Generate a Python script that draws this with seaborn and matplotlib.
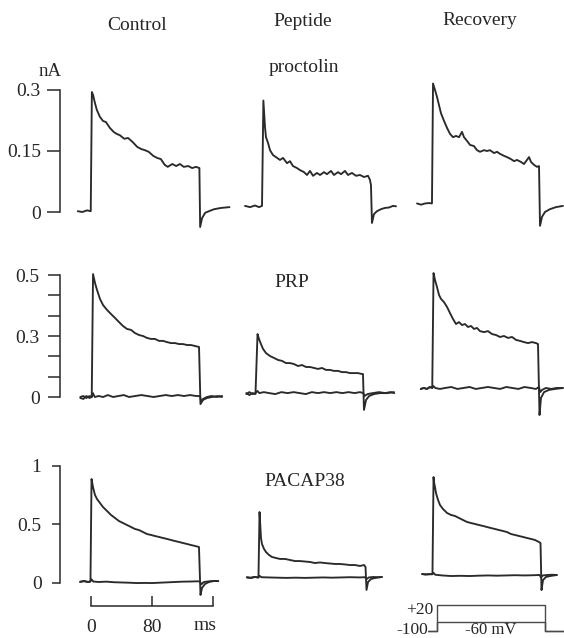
import matplotlib
matplotlib.use("Agg")
import numpy as np
import pandas as pd
import matplotlib.pyplot as plt
import seaborn as sns

# ---------------------------------------------------------------------------
# Column / row annotations
# ---------------------------------------------------------------------------
conditions = ["Control", "Peptide", "Recovery"]
peptides = ["proctolin", "PRP", "PACAP38"]

# y-axis ticks (nA) and their printed labels, one list per peptide row
proc_ticks = [0.0, 0.15, 0.3]
proc_tick_labels = ["0", "0.15", "0.3"]
prp_ticks = [0.0, 0.0833, 0.1667, 0.25, 0.3333, 0.4167, 0.5]
prp_tick_labels = ["0", "", "", "0.3", "", "", "0.5"]
pacap_ticks = [0.0, 0.5, 1.0]
pacap_tick_labels = ["0", "0.5", "1"]

# time scale bar (ms)
bar_ticks = [0, 80, 160]
bar_labels = ["0", "80", ""]

# voltage protocol (ms, mV)
prot_t = [-12, 0, 0, 142, 142, 168]
prot_v_depol = [-100, -100, 20, 20, -100, -100]
prot_v_hyper = [-100, -100, -60, -60, -100, -100]

# ---------------------------------------------------------------------------
# Current traces: time (ms from step onset) and current (nA)
# ---------------------------------------------------------------------------
# proctolin, step to +20 mV
proc_ctrl_t = [-18, -12, -6, -1, 0.5, 2, 4.5, 7, 11, 15, 19, 24, 29, 33, 37, 43, 48, 54, 60, 65,
               70, 75, 81, 86, 91, 96, 100, 106, 111, 116, 121, 127, 132, 137, 141.5, 142.5,
               145, 149, 154, 161, 170, 181]
proc_ctrl_i = [0.002, 0.000, 0.004, 0.002, 0.295, 0.288, 0.268, 0.251, 0.234, 0.224, 0.221, 0.207,
               0.197, 0.192, 0.189, 0.180, 0.182, 0.172, 0.160, 0.155, 0.152, 0.148, 0.138, 0.133,
               0.130, 0.116, 0.111, 0.118, 0.113, 0.118, 0.111, 0.113, 0.108, 0.111, 0.108, -0.037,
               -0.015, -0.002, 0.002, 0.007, 0.010, 0.012]

proc_pep_t = [-23.6, -17, -10.5, -5.2, -1.3, 0.5, 2.6, 3.9, 6.6, 9.2, 13.1, 17.0, 22.3, 26.2, 31.5,
              35.4, 39.3, 44.6, 48.5, 53.8, 57.7, 61.6, 65.6, 70.8, 74.8, 80.0, 83.9, 89.2, 93.1,
              98.4, 102.3, 107.5, 111.5, 116.7, 122.0, 127.2, 132.5, 137.7, 140.3, 141.6, 142.9,
              145.6, 149.5, 154.8, 160, 165.2, 170.5, 174.4]
proc_pep_i = [0.015, 0.012, 0.016, 0.012, 0.015, 0.274, 0.209, 0.184, 0.170, 0.152, 0.140, 0.135,
              0.128, 0.133, 0.120, 0.125, 0.113, 0.108, 0.103, 0.098, 0.091, 0.101, 0.089, 0.096,
              0.091, 0.098, 0.093, 0.101, 0.091, 0.098, 0.093, 0.101, 0.091, 0.096, 0.089, 0.091,
              0.086, 0.089, 0.079, 0.066, -0.027, -0.005, 0.002, 0.007, 0.010, 0.011, 0.015, 0.014]

proc_rec_t = [-20.3, -15.1, -9.8, -4.6, -0.7, 0.7, 3.3, 5.9, 8.5, 11.1, 15.1, 19.0, 23.0, 26.9,
              30.8, 34.8, 38.7, 41.3, 45.2, 49.2, 54.4, 58.4, 62.3, 67.5, 71.5, 75.4, 80.7, 84.6,
              88.5, 93.8, 97.7, 103.0, 106.9, 110.8, 116.1, 120.0, 123.9, 126.6, 129.2, 133.1,
              137.0, 139.7, 141.0, 143.6, 147.5, 154.1, 162.0, 171.1]
proc_rec_i = [0.021, 0.018, 0.021, 0.022, 0.021, 0.316, 0.300, 0.283, 0.263, 0.243, 0.224, 0.207,
              0.192, 0.184, 0.187, 0.184, 0.197, 0.184, 0.175, 0.165, 0.162, 0.152, 0.148, 0.152,
              0.150, 0.152, 0.145, 0.148, 0.143, 0.138, 0.135, 0.130, 0.125, 0.128, 0.123, 0.118,
              0.128, 0.135, 0.123, 0.116, 0.111, 0.113, -0.034, -0.012, 0.000, 0.007, 0.012, 0.015]

# PRP, step to +20 mV
prp_ctrl_t = [-16, -12, -8, -4, -1, 0.7, 3.3, 5.9, 9.8, 13.8, 19.0, 24.3, 29.5, 34.8, 40, 45.2,
              50.5, 55.7, 61, 66.2, 71.5, 76.7, 81.9, 87.2, 92.5, 97.7, 103, 108.2, 113.4, 118.7,
              123.9, 129.2, 134.4, 139.7, 141.6, 144.9, 150.2, 156.7, 164.6, 169.8]
prp_ctrl_i = [0.0, 0.004, -0.004, 0.004, 0.0, 0.504, 0.467, 0.439, 0.402, 0.377, 0.357, 0.340,
              0.324, 0.307, 0.291, 0.279, 0.275, 0.262, 0.254, 0.250, 0.242, 0.238, 0.238, 0.230,
              0.230, 0.225, 0.221, 0.221, 0.217, 0.217, 0.213, 0.213, 0.209, 0.205, -0.029,
              -0.012, -0.004, 0.0, 0.004, 0.0]

prp_pep_t = [-14, -10, -6, -2, 0.7, 2.6, 5.2, 7.9, 11.8, 17, 22.3, 27.5, 32.8, 38, 43.3, 48.5,
             53.8, 59, 64.3, 69.5, 74.8, 80, 85.2, 90.5, 95.7, 101, 106.2, 111.5, 116.7, 122,
             127.2, 132.5, 137.7, 139, 140.3, 143, 147, 153.4, 161.3, 170.5, 179.7]
prp_pep_i = [0.016, 0.008, 0.016, 0.012, 0.258, 0.238, 0.217, 0.197, 0.180, 0.168, 0.160, 0.152,
             0.148, 0.139, 0.139, 0.135, 0.127, 0.131, 0.123, 0.123, 0.119, 0.115, 0.119, 0.111,
             0.111, 0.107, 0.107, 0.102, 0.102, 0.098, 0.098, 0.098, 0.094, 0.094, -0.053,
             -0.012, 0.004, 0.012, 0.016, 0.016, 0.020]

prp_rec_t = [-16, -12, -8, -4, -1, 0.7, 2.6, 5.2, 7.9, 10.5, 14.4, 18.4, 22.3, 26.2, 30.2, 34.1,
             38, 42, 45.9, 49.8, 53.8, 57.7, 61.6, 66.9, 72.1, 77.4, 82.6, 87.9, 93.1, 98.4,
             103.6, 108.9, 114.1, 119.3, 124.6, 129.8, 135.1, 137.7, 139.7, 141.6, 145.6, 152.1,
             160, 170.5]
prp_rec_i = [0.033, 0.037, 0.033, 0.041, 0.037, 0.508, 0.480, 0.451, 0.418, 0.402, 0.389, 0.369,
             0.344, 0.320, 0.299, 0.307, 0.295, 0.299, 0.287, 0.291, 0.279, 0.283, 0.270, 0.266,
             0.270, 0.258, 0.254, 0.246, 0.250, 0.242, 0.246, 0.234, 0.230, 0.225, 0.221, 0.225,
             0.221, 0.217, -0.074, -0.004, 0.020, 0.029, 0.033, 0.037]

# PRP, step to -60 mV
prp_ctrl_t60 = [-16, -12, -8, -4, -1, 0.5, 3, 8, 14, 20, 27, 34, 41, 48, 56, 64, 72, 80, 88, 96,
                104, 112, 120, 128, 136, 141, 142.5, 145, 150, 156, 163, 170]
prp_ctrl_i60 = [-0.004, -0.008, 0.004, -0.004, 0.0, 0.016, 0.0, 0.004, 0.0, 0.008, 0.0, 0.004,
                0.008, 0.0, 0.004, 0.008, 0.004, 0.0, 0.004, 0.008, 0.004, 0.008, 0.004, 0.008,
                0.004, 0.004, -0.020, -0.008, 0.0, 0.004, 0.0, 0.004]

prp_pep_t60 = [-14, -10, -6, -2, 0.5, 3, 9, 16, 24, 32, 40, 48, 56, 64, 72, 80, 88, 96, 104, 112,
               120, 128, 135, 139.5, 141, 145, 152, 160, 168, 175, 180]
prp_pep_i60 = [0.012, 0.020, 0.012, 0.016, 0.025, 0.016, 0.020, 0.016, 0.012, 0.020, 0.016, 0.020,
               0.016, 0.012, 0.020, 0.016, 0.020, 0.016, 0.020, 0.016, 0.020, 0.016, 0.020, 0.016,
               0.004, 0.012, 0.016, 0.020, 0.016, 0.020, 0.016]

prp_rec_t60 = [-16, -12, -8, -4, -1, 0.5, 3, 9, 16, 24, 32, 40, 48, 56, 64, 72, 80, 88, 96, 104,
               112, 120, 128, 135, 139, 140.5, 143, 148, 155, 162, 170]
prp_rec_i60 = [0.033, 0.037, 0.033, 0.041, 0.037, 0.045, 0.037, 0.033, 0.037, 0.041, 0.033, 0.037,
               0.041, 0.033, 0.037, 0.041, 0.037, 0.033, 0.041, 0.037, 0.033, 0.041, 0.037, 0.033,
               0.041, 0.020, 0.029, 0.037, 0.033, 0.037, 0.037]

# PACAP38, step to +20 mV
pacap_ctrl_t = [-14.4, -9.2, -3.9, -0.7, 0.7, 2.6, 5.2, 7.9, 11.8, 15.7, 21, 26.2, 31.5, 36.7, 42,
                47.2, 52.5, 57.7, 63, 68.2, 73.4, 78.7, 83.9, 89.2, 94.4, 99.7, 104.9, 110.2,
                115.4, 120.7, 125.9, 131.1, 136.4, 141.6, 143.6, 145.6, 149.5, 154.8, 161.3, 166.6]
pacap_ctrl_i = [0.006, 0.015, 0.006, 0.010, 0.886, 0.818, 0.750, 0.715, 0.681, 0.647, 0.613, 0.579,
                0.553, 0.527, 0.510, 0.493, 0.476, 0.459, 0.450, 0.433, 0.416, 0.408, 0.399, 0.391,
                0.382, 0.374, 0.365, 0.356, 0.348, 0.339, 0.331, 0.322, 0.314, 0.305, -0.105,
                -0.045, -0.011, 0.006, 0.015, 0.015]

pacap_pep_t = [-15.7, -10.5, -5.2, -0.7, 0.7, 1.3, 2.6, 3.9, 6.6, 9.2, 13.1, 17, 22.3, 27.5, 34.1,
               40.7, 47.2, 53.8, 60.3, 66.9, 73.4, 80, 86.6, 93.1, 99.7, 106.2, 112.8, 119.3,
               125.9, 132.5, 137.7, 139.7, 141, 143, 147, 152.1, 161.3]
pacap_pep_i = [0.044, 0.040, 0.049, 0.044, 0.604, 0.536, 0.382, 0.331, 0.288, 0.262, 0.237, 0.220,
               0.211, 0.203, 0.203, 0.194, 0.185, 0.185, 0.181, 0.177, 0.168, 0.173, 0.168, 0.164,
               0.160, 0.160, 0.156, 0.151, 0.151, 0.143, 0.151, 0.134, -0.062, 0.006, 0.032,
               0.040, 0.049]

pacap_rec_t = [-14.4, -7.9, -0.7, 0.7, 1.3, 2.6, 3.9, 6.6, 9.2, 13.1, 18.4, 23.6, 28.9, 34.1,
               39.3, 44.6, 49.8, 55.1, 60.3, 65.6, 70.8, 76.1, 81.3, 86.6, 91.8, 97, 102.3, 107.5,
               112.8, 118, 123.3, 128.5, 133.8, 139, 141, 142.3, 144.3, 148.2, 153.4, 162.6]
pacap_rec_i = [0.074, 0.070, 0.074, 0.903, 0.861, 0.818, 0.767, 0.707, 0.664, 0.630, 0.596, 0.579,
               0.570, 0.553, 0.536, 0.519, 0.510, 0.502, 0.493, 0.485, 0.476, 0.467, 0.459, 0.450,
               0.442, 0.433, 0.416, 0.408, 0.399, 0.391, 0.382, 0.374, 0.365, 0.348, 0.339,
               -0.063, 0.023, 0.049, 0.057, 0.066]

# PACAP38, step to -60 mV
pacap_ctrl_t60 = [-14, -9, -4, -1, 0.5, 3, 10, 20, 30, 40, 50, 60, 70, 80, 90, 100, 110, 120, 130,
                  140, 143, 144.5, 148, 155, 162, 167]
pacap_ctrl_i60 = [0.009, 0.013, 0.006, 0.010, 0.030, 0.010, 0.006, 0.009, 0.004, 0.002, 0.0,
                  -0.003, -0.002, -0.003, 0.0, 0.003, 0.006, 0.009, 0.010, 0.012, 0.010, -0.015,
                  0.006, 0.012, 0.015, 0.013]

pacap_pep_t60 = [-16, -11, -6, -1, 0.5, 3, 12, 24, 36, 48, 60, 72, 84, 96, 108, 120, 132, 139, 141,
                 144, 150, 156, 161]
pacap_pep_i60 = [0.047, 0.043, 0.049, 0.045, 0.060, 0.047, 0.045, 0.043, 0.041, 0.043, 0.041, 0.043,
                 0.045, 0.043, 0.045, 0.047, 0.045, 0.047, 0.030, 0.045, 0.049, 0.047, 0.049]

pacap_rec_t60 = [-14, -10, -6, -1, 0.5, 3, 12, 24, 36, 48, 60, 72, 84, 96, 108, 120, 132, 140,
                 141.5, 144, 150, 156, 162]
pacap_rec_i60 = [0.074, 0.070, 0.074, 0.072, 0.085, 0.068, 0.062, 0.057, 0.059, 0.057, 0.060, 0.062,
                 0.060, 0.062, 0.064, 0.062, 0.064, 0.066, 0.045, 0.062, 0.066, 0.068, 0.066]

# ---------------------------------------------------------------------------
# Layout helpers (figure drawn in pixel units)
# ---------------------------------------------------------------------------
sns.set_theme(style="white")
plt.rcParams["font.family"] = ["Liberation Serif", "DejaVu Serif"]
plt.rcParams["text.color"] = "#262626"

W, H = 564, 638
PX_PER_MS = 0.7625
INK = "#2a2a2a"
SPINE_X = 60
T_HI = 186

fig = plt.figure(figsize=(W / 100, H / 100), dpi=100)
fig.patch.set_facecolor("white")


def box(left, top, width, height):
    ax = fig.add_axes([left / W, 1 - (top + height) / H, width / W, height / H])
    ax.set_facecolor("none")
    for sp in ax.spines.values():
        sp.set_visible(False)
    return ax


def panel(x_on, t_lo, y0, scale, ylim):
    lo, hi = ylim
    ax = box(x_on + t_lo * PX_PER_MS, y0 - hi * scale,
             (T_HI - t_lo) * PX_PER_MS, (hi - lo) * scale)
    return ax, (t_lo, T_HI), ylim


def trace(ax, t, i, lw=1.35):
    df = pd.DataFrame({"t": t, "i": i})
    sns.lineplot(data=df, x="t", y="i", ax=ax, sort=False, estimator=None,
                 color=INK, linewidth=lw, legend=False)


def ftext(x, y, s, **kw):
    fig.text(x / W, 1 - y / H, s, **kw)


rows = [
    dict(y0=212.0, scale=406.7, ylim=(-0.06, 0.33), xon=[91.5, 263, 432.5],
         ticks=proc_ticks, labels=proc_tick_labels, tlen=13, pad=4.5,
         traces=[[(proc_ctrl_t, proc_ctrl_i)],
                 [(proc_pep_t, proc_pep_i)],
                 [(proc_rec_t, proc_rec_i)]]),
    dict(y0=397.0, scale=244.0, ylim=(-0.09, 0.56), xon=[92.5, 257, 433],
         ticks=prp_ticks, labels=prp_tick_labels, tlen=12, pad=6.0,
         traces=[[(prp_ctrl_t60, prp_ctrl_i60), (prp_ctrl_t, prp_ctrl_i)],
                 [(prp_pep_t60, prp_pep_i60), (prp_pep_t, prp_pep_i)],
                 [(prp_rec_t60, prp_rec_i60), (prp_rec_t, prp_rec_i)]]),
    dict(y0=582.7, scale=117.0, ylim=(-0.15, 1.02), xon=[91, 259, 433],
         ticks=pacap_ticks, labels=pacap_tick_labels, tlen=8, pad=7.5,
         traces=[[(pacap_ctrl_t60, pacap_ctrl_i60), (pacap_ctrl_t, pacap_ctrl_i)],
                 [(pacap_pep_t60, pacap_pep_i60), (pacap_pep_t, pacap_pep_i)],
                 [(pacap_rec_t60, pacap_rec_i60), (pacap_rec_t, pacap_rec_i)]]),
]

for r, row in enumerate(rows):
    for c, x_on in enumerate(row["xon"]):
        t_lo = (SPINE_X - x_on) / PX_PER_MS if c == 0 else -32
        ax, xl, yl = panel(x_on, t_lo, row["y0"], row["scale"], row["ylim"])
        for t, i in row["traces"][c]:
            trace(ax, t, i)
        ax.set_xlim(*xl)
        ax.set_ylim(*yl)
        ax.set_xlabel("")
        ax.set_ylabel("")
        ax.set_xticks([])
        if c == 0:
            ax.spines["left"].set_visible(True)
            ax.spines["left"].set_color(INK)
            ax.spines["left"].set_linewidth(1.1)
            ax.spines["left"].set_bounds(row["ticks"][0], row["ticks"][-1])
            ax.set_yticks(row["ticks"])
            ax.set_yticklabels(row["labels"])
            ax.tick_params(axis="y", left=True, direction="out",
                           length=row["tlen"] * 0.72, width=1.1, color=INK,
                           labelsize=14, pad=row["pad"], labelcolor="#262626")
        else:
            ax.set_yticks([])
        if r == 2 and c == 0:
            bar_xl = xl

# time scale bar below the PACAP38 control panel
xon_bar = rows[2]["xon"][0]
bar = box(xon_bar + bar_xl[0] * PX_PER_MS, 560, (bar_xl[1] - bar_xl[0]) * PX_PER_MS, 46)
bar.set_xlim(*bar_xl)
bar.set_ylim(0, 1)
bar.spines["bottom"].set_visible(True)
bar.spines["bottom"].set_color(INK)
bar.spines["bottom"].set_linewidth(1.1)
bar.spines["bottom"].set_bounds(bar_ticks[0], bar_ticks[-1])
bar.set_xticks(bar_ticks)
bar.set_xticklabels(bar_labels)
bar.set_yticks([])
bar.tick_params(axis="x", bottom=True, direction="in", length=7.2, width=1.1,
                color=INK, labelsize=14, pad=9, labelcolor="#262626")
bar.text(150, -0.42, "ms", ha="center", va="center", fontsize=14,
         transform=bar.get_xaxis_transform())

# voltage protocol inset
prot_xon = 437
prot_scale = 0.2167
vax = box(prot_xon - 12 * PX_PER_MS, 605 - 10 * prot_scale, 180 * PX_PER_MS, 140 * prot_scale)
for v in (prot_v_hyper, prot_v_depol):
    sns.lineplot(x=prot_t, y=v, ax=vax, sort=False, estimator=None, color="#4a4a4a",
                 linewidth=1.0, legend=False)
vax.set_xlim(-12, 168)
vax.set_ylim(-110, 30)
vax.set_xticks([])
vax.set_yticks([])
vax.set_xlabel("")
vax.set_ylabel("")
ftext(433, 610, "+20", ha="right", va="center", fontsize=12.5)
ftext(428, 630, "-100", ha="right", va="center", fontsize=12.5)
ftext(491, 629.5, "-60 mV", ha="center", va="center", fontsize=12)

# headers and labels
for name, (x, y) in zip(conditions, [(137, 25), (303, 21.5), (480, 20.5)]):
    ftext(x, y, name, ha="center", va="center", fontsize=14)
for name, (x, y) in zip(peptides, [(304, 68), (291.5, 283), (305, 482)]):
    ftext(x, y, name, ha="center", va="center", fontsize=14)
ftext(50, 71, "nA", ha="center", va="center", fontsize=13.5)

fig.savefig("out.png", dpi=100, facecolor="white")
